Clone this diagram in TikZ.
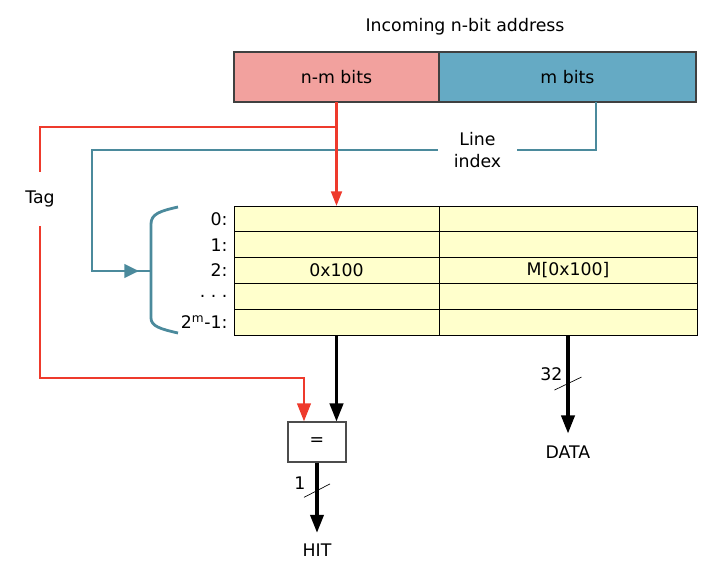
\documentclass[tikz,border=0pt]{standalone}
\usepackage{fontspec}
\setmainfont{DejaVu Sans}
\usetikzlibrary{positioning,arrows.meta}
\definecolor{tagred}{HTML}{EE3A2C}
\definecolor{idxblue}{HTML}{4B8A9C}
\definecolor{hipink}{HTML}{F2A19E}
\definecolor{loblue}{HTML}{65AAC4}
\definecolor{cellyellow}{HTML}{FFFFCC}
\tikzset{
  lbl/.style={font=\fontsize{13}{17}\selectfont, inner sep=1pt},
  field/.style={lbl, draw=black!75, line width=0.8pt, minimum height=37.5pt, outer sep=0pt},
  cell/.style={lbl, draw=black, fill=cellyellow, line width=0.7pt, minimum height=19.35pt, outer sep=0pt, inner sep=0pt},
  cmpbox/.style={lbl, draw=black!70, line width=0.8pt, minimum width=43.5pt, minimum height=30pt},
  tagline/.style={draw=tagred, line width=2.1pt},
  idxline/.style={draw=idxblue, line width=2.1pt},
  redtip/.style={-{Triangle[length=11pt,width=8pt]}},
  bigtip/.style={-{Triangle[length=13.5pt,width=10pt]}},
  bluetip/.style={-{Triangle[length=11pt,width=10pt]}},
  bus/.style={line width=2.3pt, bigtip},
  buswidth/.style={line width=0.5pt},
}
\begin{document}
\begin{tikzpicture}[x=0.75pt,y=-0.75pt]
  \useasboundingbox (0,0) rectangle (710,574);

  % incoming address
  \node[lbl] (title) at (465,27) {Incoming n-bit address};
  \node[field, fill=hipink, minimum width=153.75pt] (hibits) at (336.5,77) {n-m bits};
  \node[field, fill=loblue, minimum width=192.75pt, right=0pt of hibits] (lobits) {m bits};

  % cache lines
  \foreach \i/\rowtxt in {1/0:, 2/1:, 3/2:, 4/{.~.~.}, 5/{2\textsuperscript{m}-1:}} {
    \node[cell, minimum width=153.75pt] (tagcell-\i) at (336.5,{206+25.8*(\i-0.5)}) {};
    \node[cell, minimum width=193.5pt, right=0pt of tagcell-\i] (datacell-\i) {};
    \node[lbl, anchor=east] (row-\i) at (229,{206+25.8*(\i-0.5)}) {\rowtxt};
  }
  \node[lbl] (tagval) at (tagcell-3) {0x100};
  \node[lbl] (dataval) at (datacell-3) {M[0x100]};

  \node[cmpbox] (cmp) at (317,442) {=};
  \node[lbl] (hit) at (317,550) {HIT};
  \node[lbl] (data) at (568,452) {DATA};
  \node[lbl, minimum height=40pt, inner sep=0pt] (tag) at (40,199) {Tag};
  \node[lbl, align=center, inner xsep=11.8pt] (lineidx) at (477.5,150) {Line\\index};

  % line index (blue)
  \coordinate (idxbend) at (92,271);
  \coordinate (idxtip) at (139,271);
  \coordinate (bracemid) at (151,271);
  \draw[idxline] ([xshift=21.4pt]lobits.south) |- (lineidx.east);
  \draw[idxline] (lineidx.west) -| (idxbend) -- (bracemid);
  \draw[idxline, bluetip] (idxbend) -- (idxtip);
  \draw[idxline] (178,207) .. controls (160,211) and (151,214) .. (151,224)
    -- (151,318) .. controls (151,326) and (160,329) .. (178,333);

  % tag (red)
  \coordinate (tagsplit) at (hibits.south |- 0,127);
  \coordinate (tagturn) at (tag.south |- 0,378);
  \draw[tagline, redtip] (hibits.south) -- (tagcell-1.north);
  \draw[tagline] (tagsplit) -| (tag.north);
  \draw[tagline, bigtip] (tag.south) -- (tagturn) -| ([xshift=-9.75pt]cmp.north);

  % outputs
  \draw[bus] (tagcell-5.south) -- (tagcell-5.south |- cmp.north);
  \draw[bus, shorten >=7pt] (cmp.south) -- coordinate[pos=0.35] (hitmark) (hit.north);
  \draw[bus, shorten >=8pt] (datacell-5.south) -- coordinate[pos=0.445] (datamark) (data.north);
  \draw[buswidth] ([shift={(-13,7)}]hitmark) -- ([shift={(13,-6.5)}]hitmark);
  \draw[buswidth] ([shift={(-13.5,6.5)}]datamark) -- ([shift={(13.5,-6.5)}]datamark);
  \node[lbl, anchor=east] (hitwidth) at ([shift={(-10,-7)}]hitmark) {1};
  \node[lbl, anchor=east] (datawidth) at ([shift={(-4,-9)}]datamark) {32};
\end{tikzpicture}
\end{document}
